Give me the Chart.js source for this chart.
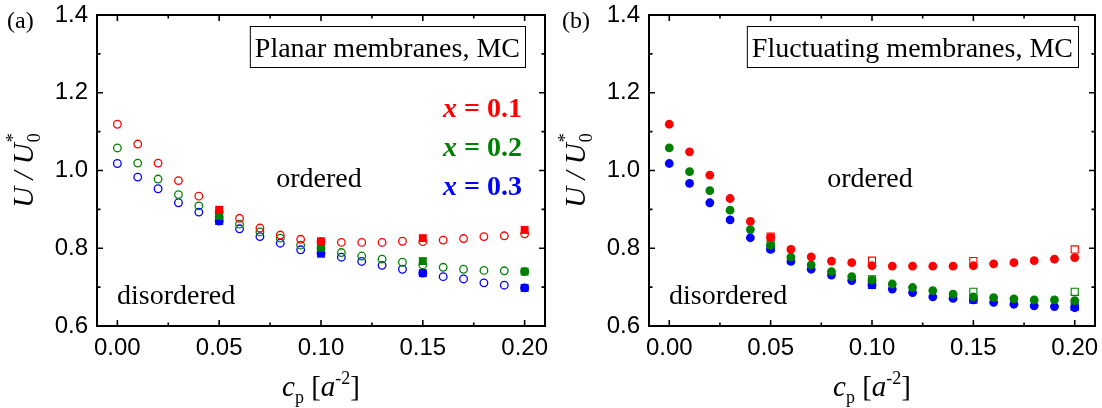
<!DOCTYPE html>
<html>
<head>
<meta charset="utf-8">
<script src="https://cdn.jsdelivr.net/npm/chart.js@4.4.1/dist/chart.umd.min.js"></script>
<style>
  html, body { margin: 0; padding: 0; background: #fff; }
  .wrap { display: flex; width: 1102px; height: 408px; }
  .panel { width: 551px; height: 408px; }
</style>
</head>
<body>
<div class="wrap">
  <div class="panel"><canvas id="chartA" width="551" height="408"></canvas></div>
  <div class="panel"><canvas id="chartB" width="551" height="408"></canvas></div>
</div>
<script>
// concentration c_p, all MC points
const cp = [0.00, 0.01, 0.02, 0.03, 0.04, 0.05, 0.06, 0.07, 0.08, 0.09, 0.10,
            0.11, 0.12, 0.13, 0.14, 0.15, 0.16, 0.17, 0.18, 0.19, 0.20];
// the sparser set (squares)
const cpSparse = [0.05, 0.10, 0.15, 0.20];

const xTicks = [0.00, 0.05, 0.10, 0.15, 0.20];
const xMinor = [0.025, 0.075, 0.125, 0.175];
const yTicks = [0.6, 0.8, 1.0, 1.2, 1.4];
const yMinor = [0.7, 0.9, 1.1, 1.3];

const fractions = ['x = 0.1', 'x = 0.2', 'x = 0.3'];
const colors = ['#ff0000', '#008000', '#0000ff'];

// (a) planar membranes
const planar01 = [1.119, 1.068, 1.019, 0.974, 0.934, 0.893, 0.877, 0.852, 0.834, 0.823, 0.817,
                  0.815, 0.815, 0.815, 0.818, 0.817, 0.821, 0.825, 0.830, 0.832, 0.837];
const planar02 = [1.058, 1.019, 0.978, 0.938, 0.909, 0.880, 0.862, 0.842, 0.826, 0.808, 0.800,
                  0.789, 0.780, 0.772, 0.764, 0.757, 0.751, 0.746, 0.743, 0.742, 0.740];
const planar03 = [1.018, 0.983, 0.953, 0.917, 0.893, 0.870, 0.850, 0.830, 0.813, 0.796, 0.788,
                  0.777, 0.766, 0.756, 0.746, 0.736, 0.727, 0.721, 0.711, 0.705, 0.698];
const planarSq01 = [0.899, 0.818, 0.826, 0.847];
const planarSq02 = [0.883, 0.801, 0.767, 0.740];
const planarSq03 = [0.870, 0.786, 0.736, 0.698];

// (b) fluctuating membranes
const fluct01 = [1.119, 1.048, 0.988, 0.928, 0.869, 0.828, 0.797, 0.778, 0.767, 0.763, 0.755,
                 0.754, 0.754, 0.754, 0.754, 0.755, 0.760, 0.763, 0.768, 0.772, 0.776];
const fluct02 = [1.058, 0.997, 0.948, 0.898, 0.848, 0.808, 0.777, 0.757, 0.740, 0.727, 0.718,
                 0.708, 0.699, 0.691, 0.682, 0.675, 0.673, 0.670, 0.667, 0.667, 0.665];
const fluct03 = [1.018, 0.967, 0.917, 0.873, 0.827, 0.797, 0.766, 0.746, 0.731, 0.717, 0.706,
                 0.695, 0.686, 0.675, 0.671, 0.667, 0.661, 0.656, 0.652, 0.650, 0.647];
const fluctSq01 = [0.830, 0.768, 0.767, 0.797];
const fluctSq02 = [0.810, 0.720, 0.688, 0.688];
const fluctSq03 = [0.800, 0.706, 0.668, 0.650];

const SERIF = '"Liberation Serif", "Times New Roman", serif';
const SANS = '"Liberation Sans", Arial, sans-serif';

const pts = (xs, ys) => xs.map((x, i) => ({x: x, y: ys[i]}));

// draw a row of text pieces with their own fonts / baseline shifts
function drawRuns(ctx, runs, x, y, align) {
    let w = 0;
    runs.forEach(r => { ctx.font = r.font; w += ctx.measureText(r.t).width; });
    let cx = align === 'right' ? x - w : align === 'center' ? x - w / 2 : x;
    runs.forEach(r => {
        ctx.font = r.font;
        ctx.fillStyle = r.color || '#000';
        ctx.fillText(r.t, cx, y + (r.dy || 0));
        cx += ctx.measureText(r.t).width;
    });
    return w;
}

const decor = {
    id: 'decor',
    afterDraw(chart, args, o) {
        const {ctx, chartArea: a, scales: {x, y}} = chart;
        ctx.save();
        ctx.strokeStyle = '#000';
        ctx.lineWidth = 2;
        ctx.strokeRect(a.left, a.top, a.right - a.left, a.bottom - a.top);

        // inward ticks on all four sides
        ctx.lineWidth = 1.6;
        ctx.beginPath();
        const xt = (v, len) => {
            const px = x.getPixelForValue(v);
            ctx.moveTo(px, a.bottom); ctx.lineTo(px, a.bottom - len);
            ctx.moveTo(px, a.top); ctx.lineTo(px, a.top + len);
        };
        const yt = (v, len) => {
            const py = y.getPixelForValue(v);
            ctx.moveTo(a.left, py); ctx.lineTo(a.left + len, py);
            ctx.moveTo(a.right, py); ctx.lineTo(a.right - len, py);
        };
        xTicks.forEach(v => xt(v, 6));
        xMinor.forEach(v => xt(v, 3.5));
        yTicks.forEach(v => yt(v, 6));
        yMinor.forEach(v => yt(v, 3.5));
        ctx.stroke();

        ctx.textBaseline = 'alphabetic';
        ctx.textAlign = 'left';

        // panel tag
        ctx.font = '24px ' + SERIF;
        ctx.fillStyle = '#000';
        ctx.fillText(o.tag, o.tagX, 28);

        // boxed title
        ctx.font = '28px ' + SERIF;
        const tw = ctx.measureText(o.title).width;
        const bx = a.right - o.boxGap - tw - 10;
        ctx.lineWidth = 1;
        ctx.strokeRect(bx + 0.5, a.top + 11.5, tw + 10, 41);
        ctx.fillText(o.title, bx + 5, a.top + 42);

        // region labels
        ctx.textAlign = 'center';
        ctx.fillText('ordered', (a.left + a.right) / 2 - 2, a.top + 172);
        ctx.textAlign = 'left';
        ctx.fillText('disordered', a.left + 20, a.bottom - 22);

        // series legend
        if (o.legend) {
            fractions.forEach((f, i) => {
                drawRuns(ctx, [
                    {t: f.slice(0, 1), font: 'italic bold 28px ' + SERIF, color: colors[i]},
                    {t: f.slice(1), font: 'bold 28px ' + SERIF, color: colors[i]}
                ], a.right - 23, a.top + 102 + i * 39, 'right');
            });
        }

        // x axis title  c_p [a^-2]
        drawRuns(ctx, [
            {t: 'c', font: 'italic 29px ' + SERIF},
            {t: 'p', font: '18px ' + SERIF, dy: 7},
            {t: ' [', font: '29px ' + SERIF},
            {t: 'a', font: 'italic 29px ' + SERIF},
            {t: '-2', font: '18px ' + SERIF, dy: -12},
            {t: ']', font: '29px ' + SERIF}
        ], (a.left + a.right) / 2, 396, 'center');

        // y axis title  U / U*_0
        ctx.translate(a.left - 64, (a.top + a.bottom) / 2);
        ctx.rotate(-Math.PI / 2);
        ctx.font = 'italic 29px ' + SERIF;
        const main = 'U / U';
        const mw = ctx.measureText(main).width;
        const sx = -(mw + 10) / 2;
        ctx.fillText(main, sx, 0);
        ctx.font = '18px ' + SERIF;
        ctx.fillText('*', sx + mw + 1, -14);
        ctx.fillText('0', sx + mw + 1, 7);
        ctx.restore();
    }
};

function makePanel(id, sets, extra) {
    return new Chart(document.getElementById(id), {
        type: 'scatter',
        data: {datasets: sets},
        options: {
            responsive: false,
            animation: false,
            events: [],
            layout: {padding: {left: 0, right: extra.padRight, top: 15, bottom: 0}},
            plugins: {legend: {display: false}, tooltip: {enabled: false}, decor: extra},
            scales: {
                x: {
                    type: 'linear', min: -0.01, max: 0.21,
                    grid: {display: false, drawTicks: false},
                    border: {display: false},
                    afterBuildTicks: s => { s.ticks = xTicks.map(v => ({value: v})); },
                    afterFit: s => { s.height = 82; s.paddingLeft = 0; s.paddingRight = 0; },
                    ticks: {
                        color: '#000', padding: 8,
                        font: {family: SANS, size: 24},
                        callback: v => v.toFixed(2)
                    }
                },
                y: {
                    type: 'linear', min: 0.6, max: 1.4,
                    grid: {display: false, drawTicks: false},
                    border: {display: false},
                    afterBuildTicks: s => { s.ticks = yTicks.map(v => ({value: v})); },
                    afterFit: s => { s.width = extra.yWidth; s.paddingTop = 0; s.paddingBottom = 0; },
                    ticks: {
                        color: '#000', padding: 9,
                        font: {family: SANS, size: 24},
                        callback: v => v.toFixed(1)
                    }
                }
            }
        },
        plugins: [decor]
    });
}

const openCircle = (ys, c, ord) => ({
    data: pts(cp, ys), order: ord, pointStyle: 'circle', pointRadius: 3.8,
    borderWidth: 1.3, borderColor: c, backgroundColor: 'rgba(0,0,0,0)', showLine: false
});
const fullCircle = (ys, c, ord) => ({
    data: pts(cp, ys), order: ord, pointStyle: 'circle', pointRadius: 4.4,
    borderWidth: 0, borderColor: c, backgroundColor: c, showLine: false
});
const fullSquare = (ys, c, ord) => ({
    data: pts(cpSparse, ys), order: ord, pointStyle: 'rect', pointRadius: 5.6,
    borderWidth: 0, borderColor: c, backgroundColor: c, showLine: false
});
const openSquare = (ys, c, ord) => ({
    data: pts(cpSparse, ys), order: ord, pointStyle: 'rect', pointRadius: 5,
    borderWidth: 1.1, borderColor: c, backgroundColor: 'rgba(0,0,0,0)', showLine: false
});

makePanel('chartA', [
    fullSquare(planarSq01, colors[0], 1),
    fullSquare(planarSq02, colors[1], 2),
    fullSquare(planarSq03, colors[2], 3),
    openCircle(planar01, colors[0], 4),
    openCircle(planar02, colors[1], 5),
    openCircle(planar03, colors[2], 6)
], {tag: '(a)', tagX: 7, title: 'Planar membranes, MC', boxGap: 20, legend: true, yWidth: 97, padRight: 6});

makePanel('chartB', [
    fullCircle(fluct01, colors[0], 1),
    fullCircle(fluct02, colors[1], 2),
    fullCircle(fluct03, colors[2], 3),
    openSquare(fluctSq01, colors[0], 4),
    openSquare(fluctSq02, colors[1], 5),
    openSquare(fluctSq03, colors[2], 6)
], {tag: '(b)', tagX: 11, title: 'Fluctuating membranes, MC', boxGap: 17, legend: false, yWidth: 98, padRight: 7});
</script>
</body>
</html>
